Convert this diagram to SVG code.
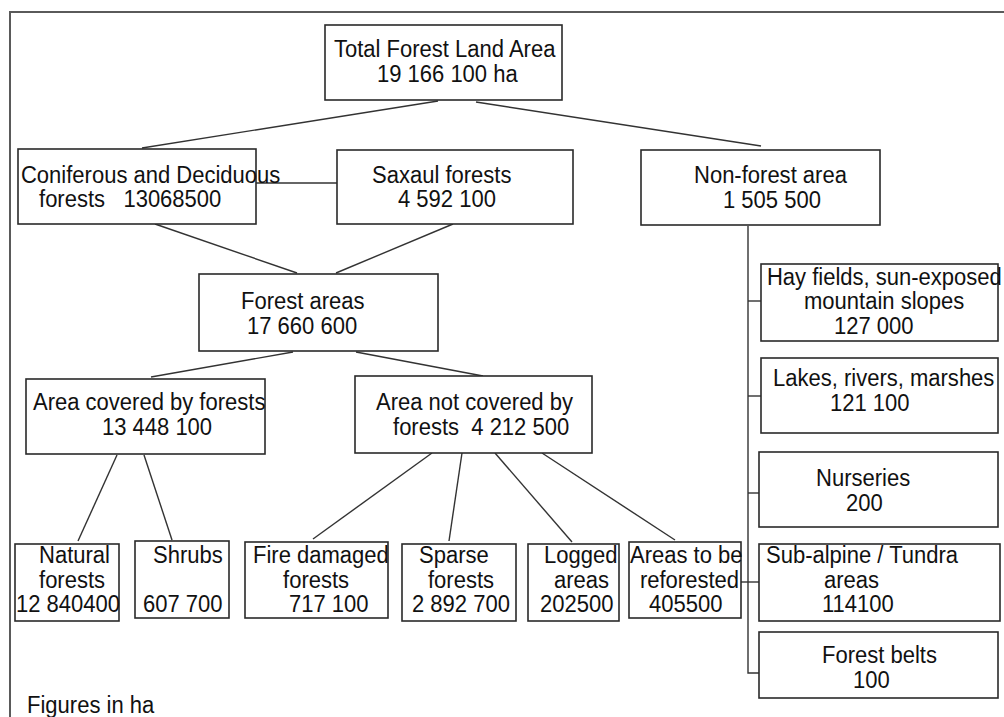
<svg xmlns="http://www.w3.org/2000/svg" width="1004" height="717" viewBox="0 0 1004 717">
<style>
  .box{fill:#fff;stroke:#2a2a2a;stroke-width:1.6}
  .ln{stroke:#333;stroke-width:1.4;fill:none}
  .frame{stroke:#5a5a5a;stroke-width:2;fill:none}
  text{font-family:"Liberation Sans",Arial,sans-serif;font-size:23.3px;fill:#111}
</style>
<rect width="1004" height="717" fill="#fff"/>
<path class="frame" d="M1004,12 H10 V717"/>
<g id="connectors">
  <line class="ln" x1="438" y1="101" x2="142" y2="148"/>
  <line class="ln" x1="476" y1="102" x2="761" y2="146"/>
  <line class="ln" x1="256" y1="183" x2="339" y2="183"/>
  <line class="ln" x1="155" y1="224" x2="297" y2="273"/>
  <line class="ln" x1="453" y1="224" x2="336" y2="273"/>
  <line class="ln" x1="293" y1="352" x2="151" y2="377"/>
  <line class="ln" x1="356" y1="352" x2="483" y2="376"/>
  <line class="ln" x1="117" y1="455" x2="78" y2="541"/>
  <line class="ln" x1="144" y1="455" x2="172" y2="540"/>
  <line class="ln" x1="432" y1="453" x2="313" y2="539"/>
  <line class="ln" x1="462" y1="453" x2="449" y2="541"/>
  <line class="ln" x1="495" y1="453" x2="572" y2="542"/>
  <line class="ln" x1="542" y1="453" x2="675" y2="540"/>
  <path class="ln" d="M748,226 V673 H759"/>
  <line class="ln" x1="748" y1="301" x2="761" y2="301"/>
  <line class="ln" x1="748" y1="396" x2="761" y2="396"/>
  <line class="ln" x1="748" y1="493" x2="759" y2="493"/>
  <line class="ln" x1="741" y1="582" x2="759" y2="582"/>
</g>
<g id="total">
  <rect class="box" x="325" y="25" width="237" height="75"/>
  <g transform="scale(0.945,1)">
  <text x="353.4" y="57">Total Forest Land Area</text>
  <text x="398.9" y="82">19 166 100 ha</text>
  </g>
</g>
<g id="coniferous">
  <rect class="box" x="18" y="149" width="238" height="75"/>
  <g transform="scale(0.945,1)">
  <text x="22.2" y="183">Coniferous and Deciduous</text>
  <text x="41.3" y="207" xml:space="preserve">forests   13068500</text>
  </g>
</g>
<g id="saxaul">
  <rect class="box" x="337" y="150" width="236" height="74"/>
  <g transform="scale(0.945,1)">
  <text x="393.7" y="183">Saxaul forests</text>
  <text x="421.2" y="207">4 592 100</text>
  </g>
</g>
<g id="nonforest">
  <rect class="box" x="641" y="150" width="239" height="75"/>
  <g transform="scale(0.945,1)">
  <text x="734.4" y="183">Non-forest area</text>
  <text x="765.1" y="208">1 505 500</text>
  </g>
</g>
<g id="forestareas">
  <rect class="box" x="199" y="274" width="239" height="77"/>
  <g transform="scale(0.945,1)">
  <text x="255" y="309">Forest areas</text>
  <text x="261.4" y="334">17 660 600</text>
  </g>
</g>
<g id="covered">
  <rect class="box" x="26" y="379" width="239" height="75"/>
  <g transform="scale(0.945,1)">
  <text x="34.9" y="410">Area covered by forests</text>
  <text x="107.9" y="435">13 448 100</text>
  </g>
</g>
<g id="notcovered">
  <rect class="box" x="355" y="376" width="237" height="77"/>
  <g transform="scale(0.945,1)">
  <text x="397.9" y="410">Area not covered by</text>
  <text x="415.9" y="435" xml:space="preserve">forests  4 212 500</text>
  </g>
</g>
<g id="natural">
  <rect class="box" x="15" y="544" width="104" height="77"/>
  <g transform="scale(0.945,1)">
  <text x="41.3" y="563">Natural</text>
  <text x="41.3" y="588">forests</text>
  <text x="16.9" y="612">12 840400</text>
  </g>
</g>
<g id="shrubs">
  <rect class="box" x="135" y="541" width="94" height="77"/>
  <g transform="scale(0.945,1)">
  <text x="161.9" y="563">Shrubs</text>
  <text x="151.3" y="612">607 700</text>
  </g>
</g>
<g id="fire">
  <rect class="box" x="245" y="542" width="143" height="76"/>
  <g transform="scale(0.945,1)">
  <text x="267.7" y="563">Fire damaged</text>
  <text x="299.5" y="588">forests</text>
  <text x="305.8" y="612">717 100</text>
  </g>
</g>
<g id="sparse">
  <rect class="box" x="402" y="544" width="114" height="77"/>
  <g transform="scale(0.945,1)">
  <text x="443.4" y="563">Sparse</text>
  <text x="452.9" y="588">forests</text>
  <text x="436" y="612">2 892 700</text>
  </g>
</g>
<g id="logged">
  <rect class="box" x="528" y="544" width="91" height="77"/>
  <g transform="scale(0.945,1)">
  <text x="575.7" y="563">Logged</text>
  <text x="586.2" y="588">areas</text>
  <text x="571.4" y="612">202500</text>
  </g>
</g>
<g id="reforest">
  <rect class="box" x="629" y="542" width="112" height="76"/>
  <g transform="scale(0.945,1)">
  <text x="666.7" y="563">Areas to be</text>
  <text x="677.2" y="588">reforested</text>
  <text x="686.8" y="612">405500</text>
  </g>
</g>
<g id="hay">
  <rect class="box" x="761" y="264" width="237" height="77"/>
  <g transform="scale(0.945,1)">
  <text x="811.6" y="285">Hay fields, sun-exposed</text>
  <text x="850.8" y="309">mountain slopes</text>
  <text x="882.5" y="334">127 000</text>
  </g>
</g>
<g id="lakes">
  <rect class="box" x="761" y="358" width="237" height="75"/>
  <g transform="scale(0.945,1)">
  <text x="818" y="386">Lakes, rivers, marshes</text>
  <text x="878.3" y="411">121 100</text>
  </g>
</g>
<g id="nurseries">
  <rect class="box" x="759" y="452" width="239" height="75"/>
  <g transform="scale(0.945,1)">
  <text x="863.5" y="486">Nurseries</text>
  <text x="895.2" y="511">200</text>
  </g>
</g>
<g id="subalpine">
  <rect class="box" x="759" y="544" width="241" height="77"/>
  <g transform="scale(0.945,1)">
  <text x="810.6" y="563">Sub-alpine / Tundra</text>
  <text x="872" y="588">areas</text>
  <text x="869.8" y="612">114100</text>
  </g>
</g>
<g id="belts">
  <rect class="box" x="759" y="632" width="239" height="66"/>
  <g transform="scale(0.945,1)">
  <text x="869.8" y="663">Forest belts</text>
  <text x="902.6" y="688">100</text>
  </g>
</g>
<g id="note" transform="scale(0.945,1)">
  <text x="28.6" y="713">Figures in ha</text>
</g>
</svg>
